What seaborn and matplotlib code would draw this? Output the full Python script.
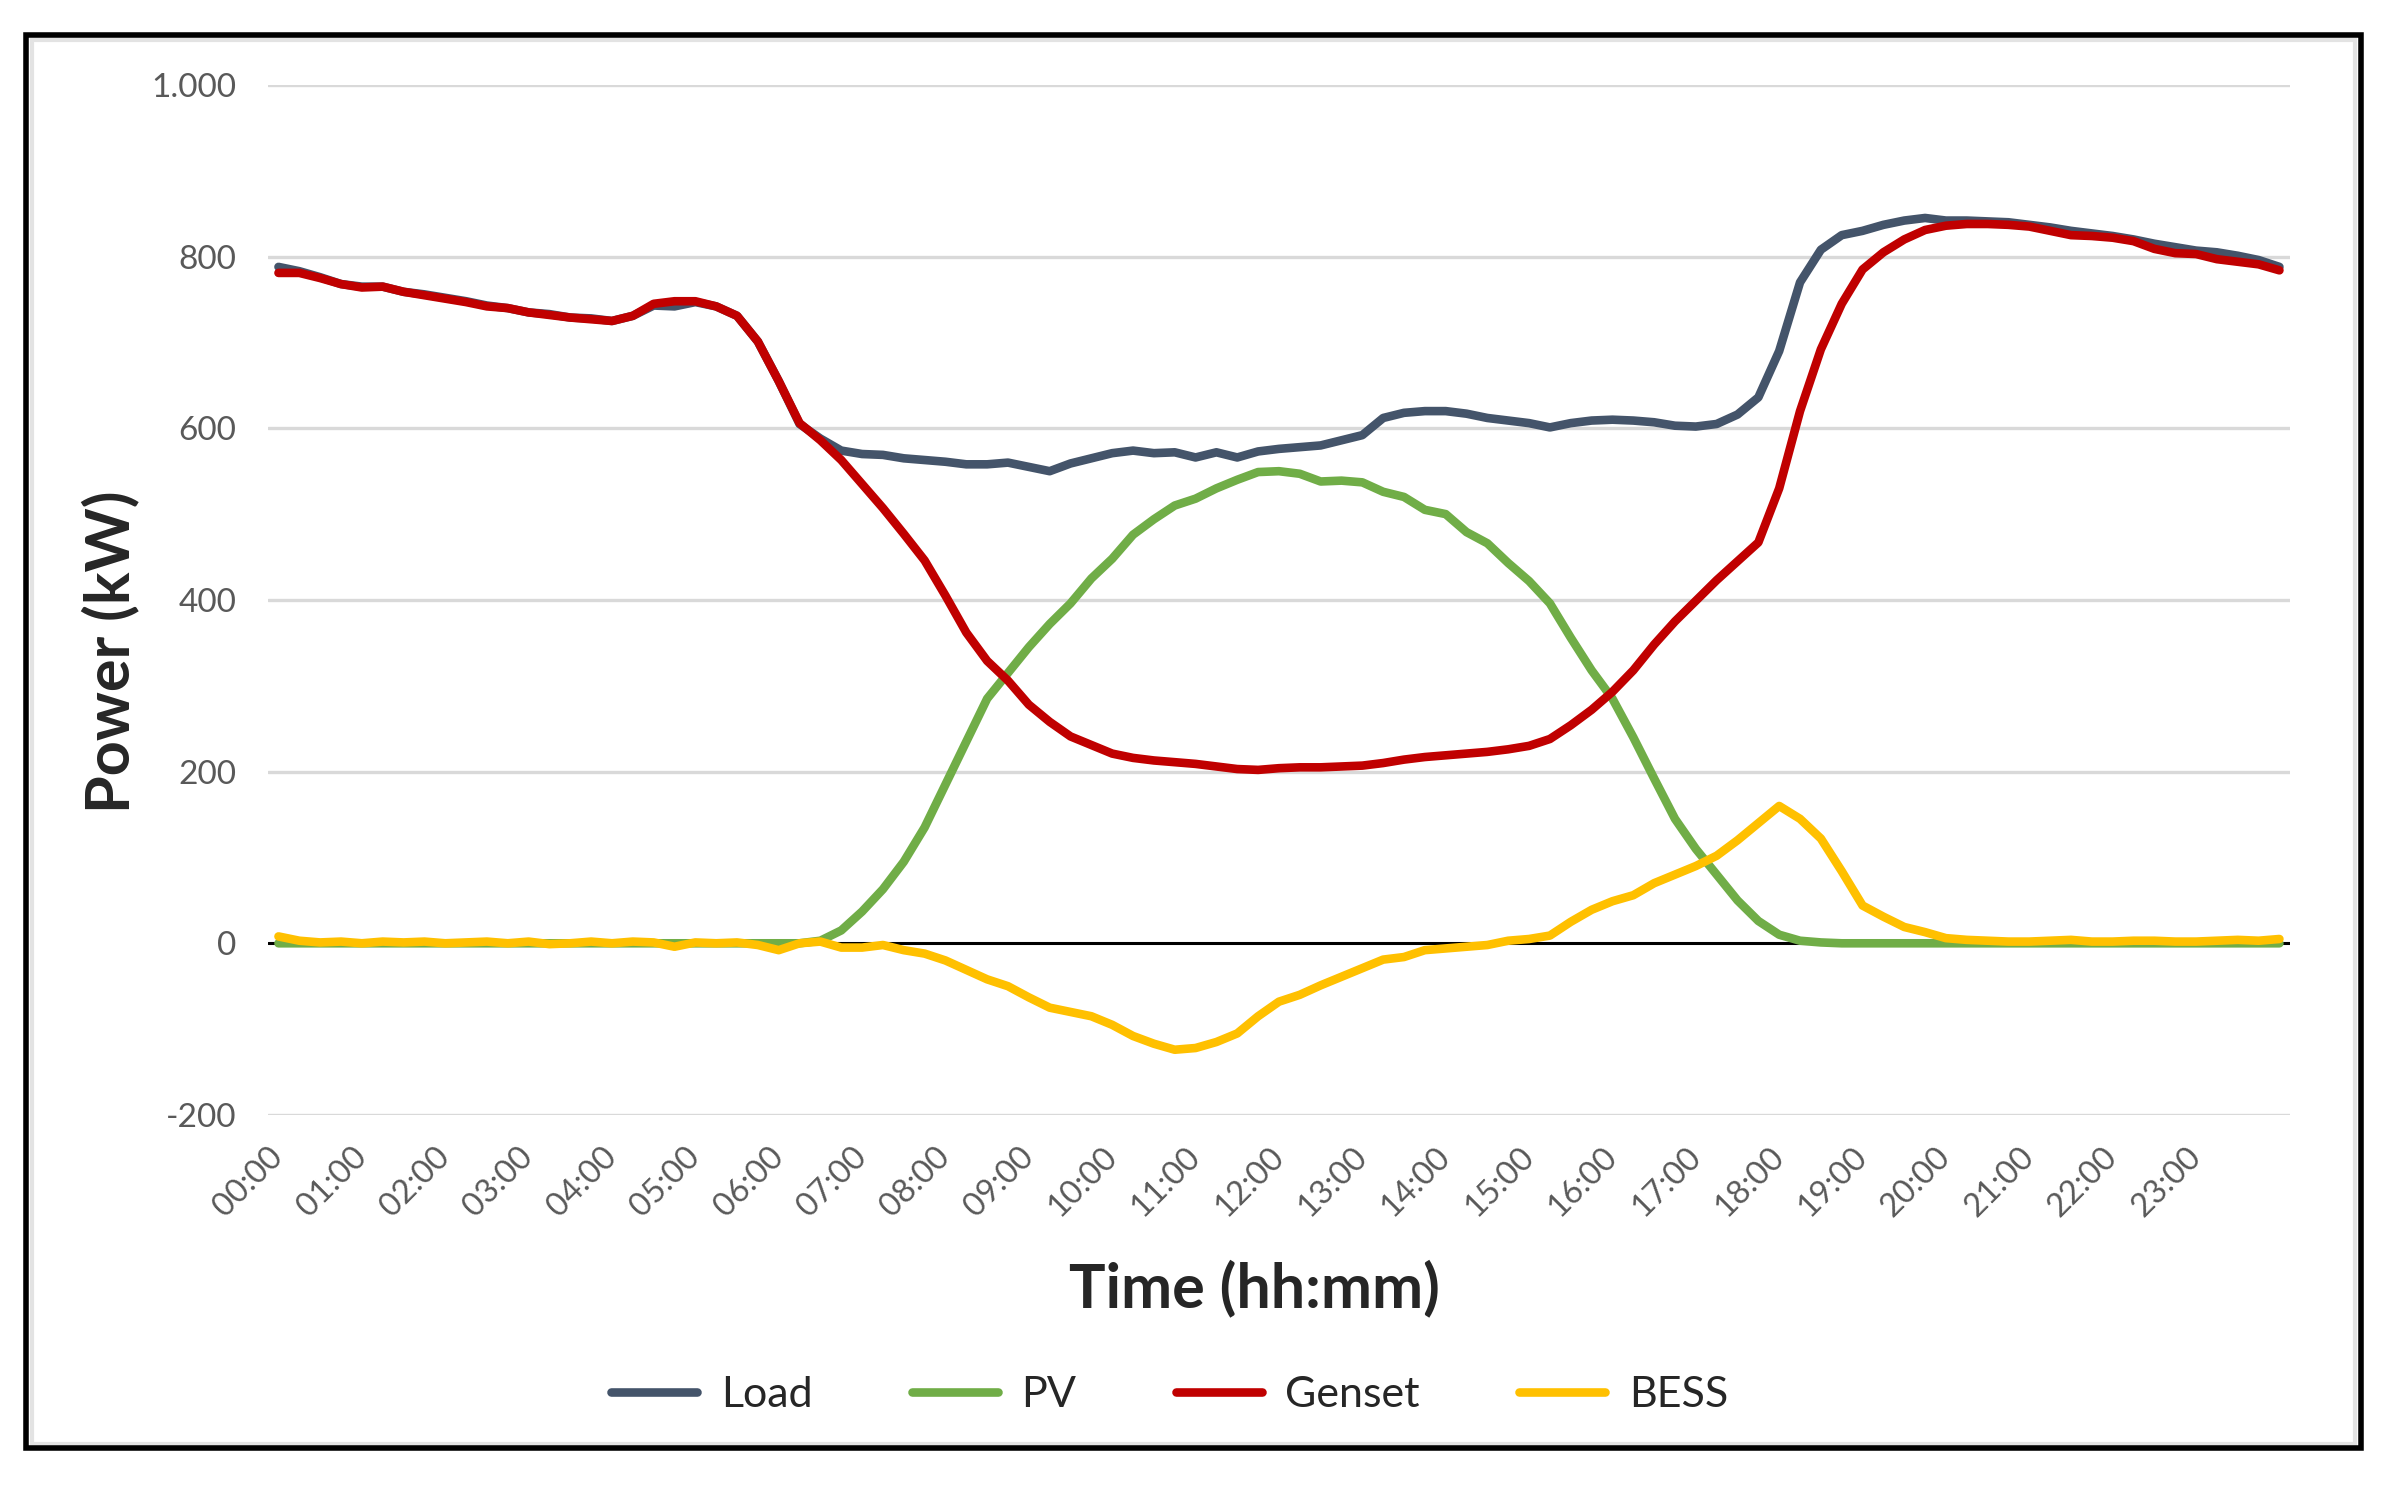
import numpy as np
import pandas as pd
import seaborn as sns
import matplotlib
matplotlib.use("Agg")
from matplotlib import pyplot as plt
from matplotlib.patches import Rectangle

# 15 min samples, 00:00 -> 24:00
hours = np.arange(97) * 0.25

load = [788, 783, 776, 768, 765, 765, 759, 756, 752, 748, 743, 740, 735, 733, 729, 728,
        725, 731, 743, 742, 747, 742, 731, 701, 655, 605, 588, 574, 570, 569, 565, 563,
        561, 558, 558, 560, 555, 550, 559, 565, 571, 574, 571, 572, 566, 572, 566, 573,
        576, 578, 580, 586, 592, 612, 618, 620, 620, 617, 612, 609, 606, 601, 606, 609,
        610, 609, 607, 603, 602, 605, 616, 636, 690, 770, 808, 825, 830, 837, 842, 845,
        842, 842, 841, 840, 837, 834, 830, 827, 824, 820, 815, 811, 807, 805, 801, 796,
        788]
genset = [781, 781, 775, 768, 764, 765, 759, 755, 751, 747, 742, 740, 735, 732, 729, 727,
          725, 731, 745, 748, 748, 742, 731, 701, 655, 606, 586, 563, 535, 507, 477, 446,
          405, 362, 329, 306, 278, 258, 241, 231, 221, 216, 213, 211, 209, 206, 203, 202,
          204, 205, 205, 206, 207, 210, 214, 217, 219, 221, 223, 226, 230, 238, 254, 272,
          293, 318, 348, 375, 399, 423, 445, 467, 530, 620, 692, 745, 785, 805, 820, 831,
          836, 838, 838, 837, 835, 830, 825, 824, 822, 818, 809, 804, 803, 797, 794, 791,
          784]
pv = [0] * 26 + [3, 15, 37, 63, 95, 135, 185, 235, 285, 315, 345, 372, 396, 425, 448, 476,
                 494, 510, 518, 530, 540, 549, 550, 547, 538, 539, 537, 526, 520, 505, 500, 479,
                 466, 443, 422, 396, 356, 318, 285, 240, 192, 145, 110, 80, 50, 26, 10, 3,
                 1] + [0] * 22
bess = [8, 3, 1, 2, 0, 2, 1, 2, 0, 1, 2, 0, 2, -1, 0, 2,
        0, 2, 1, -4, 1, 0, 1, -2, -8, 0, 2, -5, -5, -2, -8, -12,
        -20, -31, -42, -50, -63, -75, -80, -85, -95, -108, -117, -124, -122, -115, -105, -85,
        -68, -60, -49, -39, -29, -19, -16, -8, -6, -4, -2, 3, 5, 9, 25, 39,
        49, 56, 70, 80, 90, 102, 120, 140, 160, 145, 122, 84, 44, 31, 19, 13,
        6, 4, 3, 2, 2, 3, 4, 2, 2, 3, 3, 2, 2, 3, 4, 3,
        5]

series_names = ["Load", "PV", "Genset", "BESS"]
colors = ["#44546A", "#70AD47", "#C00000", "#FFC000"]
tick_labels = ["%02d:00" % h for h in range(24)]
y_ticks = [-200, 0, 200, 400, 600, 800, 1000]
y_tick_labels = ["-200", "0", "200", "400", "600", "800", "1.000"]

df = pd.DataFrame({"hour": hours, "Load": load, "PV": pv, "Genset": genset, "BESS": bess})
long_df = df.melt(id_vars="hour", var_name="series", value_name="power")

sns.set_style("white")
plt.rcParams["font.family"] = ["Lato", "DejaVu Sans"]

fig = plt.figure(figsize=(23.87, 14.90), dpi=100)
ax = fig.add_axes([0.1123, 0.2517, 0.847, 0.6913])

for y in y_ticks:
    if y != 0:
        ax.axhline(y, color="#D9D9D9", lw=2.4, zorder=0)
ax.axhline(0, color="black", lw=2.2, zorder=1)

sns.lineplot(data=long_df, x="hour", y="power", hue="series", hue_order=series_names,
             palette=colors, linewidth=6.2, ax=ax, legend=False, zorder=3)

# category axis, half a step of padding on each side
ax.set_xlim(-0.125, 24.125)
ax.set_ylim(-200, 1000)
ax.set_yticks(y_ticks)
ax.set_yticklabels(y_tick_labels)
ax.set_xticks(range(24))
ax.set_xticklabels(tick_labels, rotation=45, ha="right", va="center", rotation_mode="anchor")
ax.tick_params(axis="y", length=0, pad=23, labelsize=24, labelcolor="#595959")
ax.tick_params(axis="x", length=0, pad=27, labelsize=23.5, labelcolor="#595959")
for s in ax.spines.values():
    s.set_visible(False)

ax.set_xlabel("Time (hh:mm)", fontsize=44, fontweight="bold", va="center")
ax.set_ylabel("Power (kW)", fontsize=44, fontweight="bold", va="center")
ax.xaxis.set_label_coords(0.488, -0.168)
ax.yaxis.set_label_coords(-0.078, 0.45)

handles = [plt.Line2D([], [], color=c, lw=6.2) for c in colors]
fig.legend(handles, series_names, loc="center", bbox_to_anchor=(0.490, 0.064), ncol=4,
           frameon=False, fontsize=31, handlelength=2.0, handletextpad=0.55, columnspacing=2.3)

# chart frame
fig.patches.append(Rectangle((0.0135, 0.031), 0.973, 0.942, transform=fig.transFigure,
                             fill=False, edgecolor="#E3E3E3", lw=3, zorder=0))
fig.patches.append(Rectangle((0.011, 0.028), 0.978, 0.9485, transform=fig.transFigure,
                             fill=False, edgecolor="black", lw=4, zorder=1))

fig.savefig("out.png", dpi=100)
